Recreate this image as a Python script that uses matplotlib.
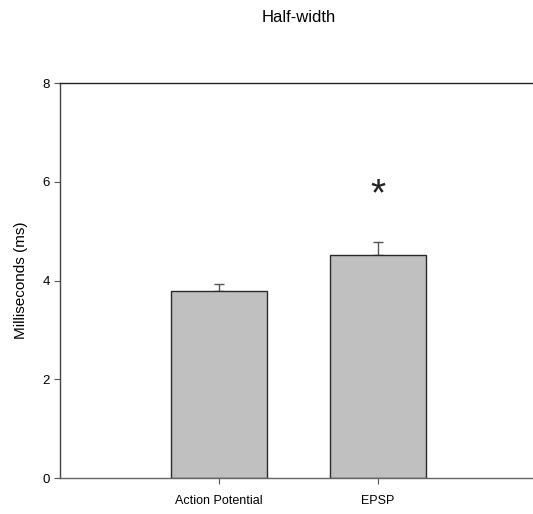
import matplotlib
matplotlib.use('Agg')
import matplotlib.pyplot as plt

# Data
categories = ['Action Potential', 'EPSP']
means = [3.79, 4.52]
sem = [0.14, 0.26]
positions = [1, 2]

plt.rcParams['font.family'] = ['Liberation Sans', 'DejaVu Sans']

fig = plt.figure(figsize=(5.33, 5.14), dpi=100)
ax = fig.add_axes([0.1126, 0.070, 0.895, 0.7685])

ax.bar(positions, means, width=0.6, color='#c0c0c0', edgecolor='#2a2a2a', linewidth=1.0, zorder=2)
ax.errorbar(positions, means, yerr=[[0, 0], sem], fmt='none', ecolor='#555555',
            elinewidth=1.0, capsize=3.8, capthick=1.0, zorder=1)

# significance marker
ax.text(positions[1], 5.72, '*', ha='center', va='center', fontsize=28, color='#222222')

ax.set_xlim(0, 3)
ax.set_ylim(0, 8)
ax.set_yticks([0, 2, 4, 6, 8])
ax.set_xticks(positions)
ax.set_xticklabels(categories, fontsize=9)
ax.tick_params(axis='y', labelsize=9.5, length=4, width=0.8, color='#555555', direction='out')
ax.tick_params(axis='x', length=4, width=0.8, color='#555555', direction='out', pad=8)
ax.set_ylabel('Milliseconds (ms)', fontsize=11, labelpad=10)
ax.set_title('Half-width', fontsize=12, pad=44)

ax.spines['right'].set_visible(False)
ax.spines['left'].set_color('#444444')
ax.spines['bottom'].set_color('#666666')
ax.spines['top'].set_color('#222222')
for s in ax.spines.values():
    s.set_linewidth(1.0)

plt.savefig('out.png', dpi=100)
